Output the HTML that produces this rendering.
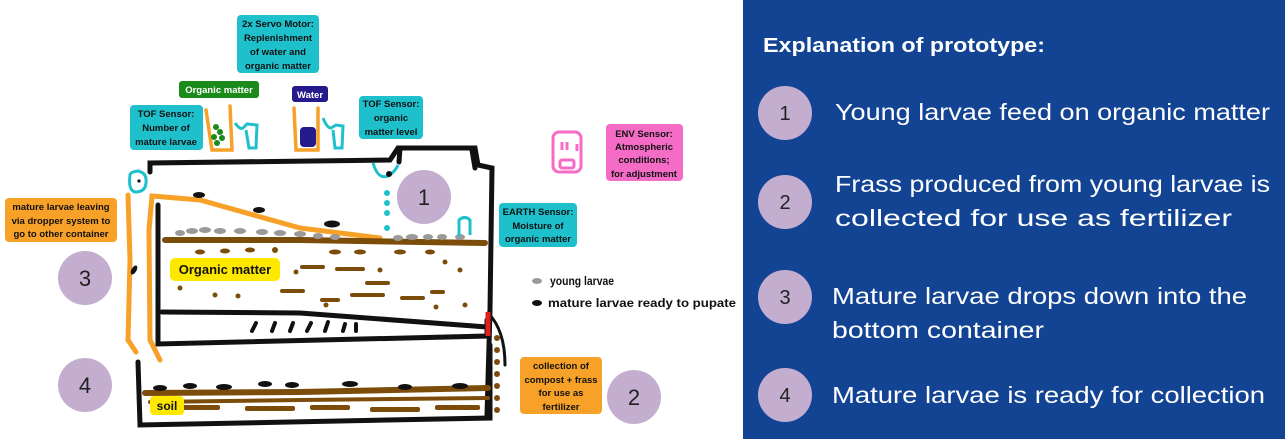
<!DOCTYPE html>
<html><head><meta charset="utf-8"><style>
html,body{margin:0;padding:0;background:#fff;width:1285px;height:439px;overflow:hidden}
svg{display:block}
.b{font-family:"Liberation Sans",sans-serif;font-weight:bold;font-size:9.5px;fill:#111;text-anchor:middle}
.w{font-family:"Liberation Sans",sans-serif;fill:#fff}
.n{font-family:"Liberation Sans",sans-serif;font-size:22px;fill:#222;text-anchor:middle}
</style></head><body>
<svg width="1285" height="439" viewBox="0 0 1285 439" xmlns="http://www.w3.org/2000/svg">
<rect x="743" y="0" width="542" height="439" fill="#134493"/>
<text class="w" x="763" y="52" font-size="20" font-weight="bold" textLength="282" lengthAdjust="spacingAndGlyphs">Explanation of prototype:</text>
<g fill="#c3aed0"><circle cx="785" cy="113" r="27"/><circle cx="785" cy="202" r="27"/><circle cx="785" cy="297" r="27"/><circle cx="785" cy="395" r="27"/></g>
<g class="n" style="font-size:20px"><text x="785" y="120">1</text><text x="785" y="209">2</text><text x="785" y="304">3</text><text x="785" y="402">4</text></g>
<g class="w" font-size="23" lengthAdjust="spacingAndGlyphs">
<text x="835" y="120" textLength="435" lengthAdjust="spacingAndGlyphs">Young larvae feed on organic matter</text>
<text x="835" y="192" textLength="435" lengthAdjust="spacingAndGlyphs">Frass produced from young larvae is</text>
<text x="835" y="226" textLength="397" lengthAdjust="spacingAndGlyphs">collected for use as fertilizer</text>
<text x="832" y="304" textLength="415" lengthAdjust="spacingAndGlyphs">Mature larvae drops down into the</text>
<text x="832" y="338" textLength="212" lengthAdjust="spacingAndGlyphs">bottom container</text>
<text x="832" y="403" textLength="433" lengthAdjust="spacingAndGlyphs">Mature larvae is ready for collection</text>
</g>
<g fill="#c3aed0"><circle cx="424" cy="197" r="27"/><circle cx="85" cy="278" r="27"/><circle cx="85" cy="385" r="27"/><circle cx="634" cy="397" r="27"/></g>
<g class="n"><text x="424" y="205">1</text><text x="85" y="286">3</text><text x="85" y="393">4</text><text x="634" y="405">2</text></g>
<g fill="none" stroke="#111" stroke-width="5" stroke-linecap="round">
<path d="M150 172 L150 163 L390 160 L398 148 L475 148 L478 165 L492 168 L490 310 L487 415"/>
<path d="M158 205 L158 344 L487 336 L487 320"/>
<path d="M162 312 L300 313 L487 327"/>
<path d="M138 362 L140 425 L490 418 L490 345"/>
<path d="M400 148 L399 162 M472 150 L475 168"/>
<path d="M488 313 Q505 330 505 365" stroke-width="3"/>
</g>
<g stroke="#111" stroke-width="4" stroke-linecap="round"><path d="M252 331 L256 323 M272 331 L275 323 M290 331 L293 323 M307 331 L311 323 M325 331 L328 322 M343 331 L345 324 M356 331 L356 324"/></g>
<line x1="488" y1="312" x2="488" y2="336" stroke="#e02020" stroke-width="5"/>
<g fill="none" stroke="#f7a128" stroke-width="5" stroke-linecap="round">
<path d="M380 238 L300 228 L200 200 L152 196 L149 230 L150 340 L160 360"/>
<path d="M128 195 L130 260 L128 340 L136 352"/>
</g>
<g stroke="#7b4c0a" stroke-width="6" stroke-linecap="round" fill="none">
<path d="M165 240 L300 240 L485 243"/>
<path d="M145 393 L300 392 L488 388"/>
<path d="M150 402 L300 400 L488 398" stroke-width="4"/>
</g>
<g fill="#7b4c0a">
<ellipse cx="200" cy="252" rx="5" ry="2.5"/><ellipse cx="225" cy="251" rx="5" ry="2.5"/><ellipse cx="250" cy="250" rx="5" ry="2.5"/><ellipse cx="275" cy="250" rx="3" ry="3"/>
<ellipse cx="335" cy="252" rx="6" ry="2.5"/><ellipse cx="360" cy="252" rx="6" ry="2.5"/><ellipse cx="400" cy="252" rx="6" ry="2.5"/><ellipse cx="430" cy="252" rx="5" ry="2.5"/>
<rect x="300" y="265" width="25" height="4" rx="2"/><rect x="335" y="267" width="30" height="4" rx="2"/><rect x="365" y="281" width="25" height="4" rx="2"/><rect x="350" y="293" width="35" height="4" rx="2"/><rect x="400" y="296" width="25" height="4" rx="2"/><rect x="280" y="289" width="25" height="4" rx="2"/><rect x="320" y="298" width="20" height="4" rx="2"/><rect x="430" y="290" width="15" height="4" rx="2"/>
<circle cx="180" cy="288" r="2.5"/><circle cx="215" cy="295" r="2.5"/><circle cx="238" cy="296" r="2.5"/><circle cx="296" cy="272" r="2.5"/><circle cx="380" cy="270" r="2.5"/><circle cx="445" cy="262" r="2.5"/><circle cx="460" cy="270" r="2.5"/><circle cx="436" cy="307" r="2.5"/><circle cx="465" cy="305" r="2.5"/><circle cx="326" cy="305" r="2.5"/>
<rect x="180" y="405" width="40" height="5" rx="2"/><rect x="245" y="406" width="50" height="5" rx="2"/><rect x="310" y="405" width="40" height="5" rx="2"/><rect x="370" y="407" width="50" height="5" rx="2"/><rect x="435" y="405" width="45" height="5" rx="2"/>
<circle cx="497" cy="338" r="3"/><circle cx="497" cy="350" r="3"/><circle cx="497" cy="362" r="3"/><circle cx="497" cy="374" r="3"/><circle cx="497" cy="386" r="3"/><circle cx="497" cy="398" r="3"/><circle cx="497" cy="410" r="3"/>
</g>
<g fill="#9a9a9a">
<ellipse cx="180" cy="233" rx="5" ry="3"/><ellipse cx="192" cy="231" rx="6" ry="3"/><ellipse cx="205" cy="230" rx="6" ry="3"/><ellipse cx="220" cy="231" rx="6" ry="3"/><ellipse cx="240" cy="231" rx="6" ry="3"/><ellipse cx="262" cy="232" rx="6" ry="3"/><ellipse cx="280" cy="233" rx="6" ry="3"/><ellipse cx="300" cy="234" rx="6" ry="3"/><ellipse cx="318" cy="236" rx="5" ry="3"/><ellipse cx="335" cy="237" rx="5" ry="3"/>
<ellipse cx="398" cy="238" rx="5" ry="3"/><ellipse cx="412" cy="237" rx="6" ry="3"/><ellipse cx="428" cy="237" rx="5" ry="3"/><ellipse cx="442" cy="237" rx="5" ry="3"/><ellipse cx="460" cy="237" rx="5" ry="3"/>
<ellipse cx="537" cy="281" rx="5" ry="3"/>
</g>
<g fill="#111">
<ellipse cx="199" cy="195" rx="6" ry="3"/><ellipse cx="259" cy="210" rx="6" ry="3"/><ellipse cx="332" cy="224" rx="8" ry="3.5"/>
<ellipse cx="160" cy="388" rx="7" ry="3"/><ellipse cx="190" cy="386" rx="7" ry="3"/><ellipse cx="224" cy="387" rx="8" ry="3"/><ellipse cx="265" cy="384" rx="7" ry="3"/><ellipse cx="292" cy="385" rx="7" ry="3"/><ellipse cx="350" cy="384" rx="8" ry="3"/><ellipse cx="405" cy="387" rx="7" ry="3"/><ellipse cx="460" cy="386" rx="8" ry="3"/>
<ellipse cx="134" cy="270" rx="2.5" ry="5" transform="rotate(30 134 270)"/>
<ellipse cx="537" cy="303" rx="5" ry="3"/>
</g>
<g fill="none" stroke="#1ec0cc" stroke-width="3">
<path d="M130 175 Q130 172 138 171 Q147 173 146 182 Q146 192 135 192 Q128 190 130 175Z"/>
<path d="M373 163 Q378 180 388 176 Q395 172 398 165"/>
<path d="M459 236 L459 220 Q465 215 470 220 L470 235"/>
<path d="M235 123 Q240 130 243 128 L247 124 L257 125 L256 148 L249 148 L246 130"/>
<path d="M323 118 Q327 128 331 128 L336 125 L343 126 L342 148 L335 148 L333 130"/>
</g>
<g fill="#1ec0cc"><circle cx="387" cy="193" r="3"/><circle cx="387" cy="203" r="3"/><circle cx="387" cy="213" r="3"/><circle cx="387" cy="228" r="3"/></g>
<circle cx="139" cy="181" r="1.6" fill="#111"/>
<circle cx="389" cy="174" r="3" fill="#111"/>
<g fill="none" stroke="#f7a128" stroke-width="3.5" stroke-linecap="round">
<path d="M206 110 L212 150 L232 150 L230 106"/>
<path d="M294 108 L296 150 L318 150 L318 108"/>
</g>
<g fill="#1a8a1a"><circle cx="216" cy="127" r="3"/><circle cx="220" cy="132" r="3"/><circle cx="214" cy="137" r="3"/><circle cx="222" cy="138" r="3"/><circle cx="217" cy="143" r="3"/></g>
<rect x="300" y="127" width="16" height="20" rx="4" fill="#241a8c"/>
<g fill="none" stroke="#f56cc6" stroke-width="3"><rect x="553" y="132" width="28" height="40" rx="6"/><rect x="560" y="160" width="14" height="8" rx="2"/><path d="M562 142 L562 150 M567 142 L567 150 M577 144 L577 151"/></g>
<rect x="237" y="15" width="82" height="58" rx="4" fill="#1ec0cc"/>
<g class="b"><text x="278" y="27">2x Servo Motor:</text><text x="278" y="41">Replenishment</text><text x="278" y="55">of water and</text><text x="278" y="69">organic matter</text></g>
<rect x="179" y="81" width="80" height="17" rx="3" fill="#1a8a1a"/>
<text class="b" x="219" y="93" style="fill:#fff">Organic matter</text>
<rect x="292" y="86" width="36" height="16" rx="3" fill="#241a8c"/>
<text class="b" x="310" y="98" style="fill:#fff">Water</text>
<rect x="130" y="105" width="73" height="45" rx="4" fill="#1ec0cc"/>
<g class="b"><text x="166" y="117">TOF Sensor:</text><text x="166" y="131">Number of</text><text x="166" y="145">mature larvae</text></g>
<rect x="359" y="96" width="64" height="43" rx="4" fill="#1ec0cc"/>
<g class="b"><text x="391" y="107">TOF Sensor:</text><text x="391" y="121">organic</text><text x="391" y="135">matter level</text></g>
<rect x="5" y="198" width="112" height="44" rx="4" fill="#f7a128"/>
<g class="b"><text x="61" y="210">mature larvae leaving</text><text x="61" y="224">via dropper system to</text><text x="61" y="237">go to other container</text></g>
<rect x="499" y="203" width="78" height="44" rx="4" fill="#1ec0cc"/>
<g class="b"><text x="538" y="215">EARTH Sensor:</text><text x="538" y="229">Moisture of</text><text x="538" y="242">organic matter</text></g>
<rect x="606" y="124" width="77" height="57" rx="4" fill="#f56cc6"/>
<g class="b"><text x="644" y="137">ENV Sensor:</text><text x="644" y="150">Atmospheric</text><text x="644" y="163">conditions;</text><text x="644" y="177">for adjustment</text></g>
<rect x="520" y="357" width="82" height="57" rx="4" fill="#f7a128"/>
<g class="b"><text x="561" y="369">collection of</text><text x="561" y="383">compost + frass</text><text x="561" y="396">for use as</text><text x="561" y="410">fertilizer</text></g>
<rect x="170" y="258" width="110" height="23" rx="5" fill="#ffe800"/>
<text class="b" x="225" y="274" style="font-size:13px">Organic matter</text>
<rect x="150" y="396" width="34" height="19" rx="4" fill="#ffe800"/>
<text class="b" x="167" y="410" style="font-size:12px">soil</text>
<text x="550" y="285" textLength="64" lengthAdjust="spacingAndGlyphs" style="font-family:'Liberation Sans',sans-serif;font-weight:bold;font-size:12px;fill:#111">young larvae</text>
<text x="548" y="307" textLength="188" lengthAdjust="spacingAndGlyphs" style="font-family:'Liberation Sans',sans-serif;font-weight:bold;font-size:12px;fill:#111">mature larvae ready to pupate</text>
</svg>
</body></html>
